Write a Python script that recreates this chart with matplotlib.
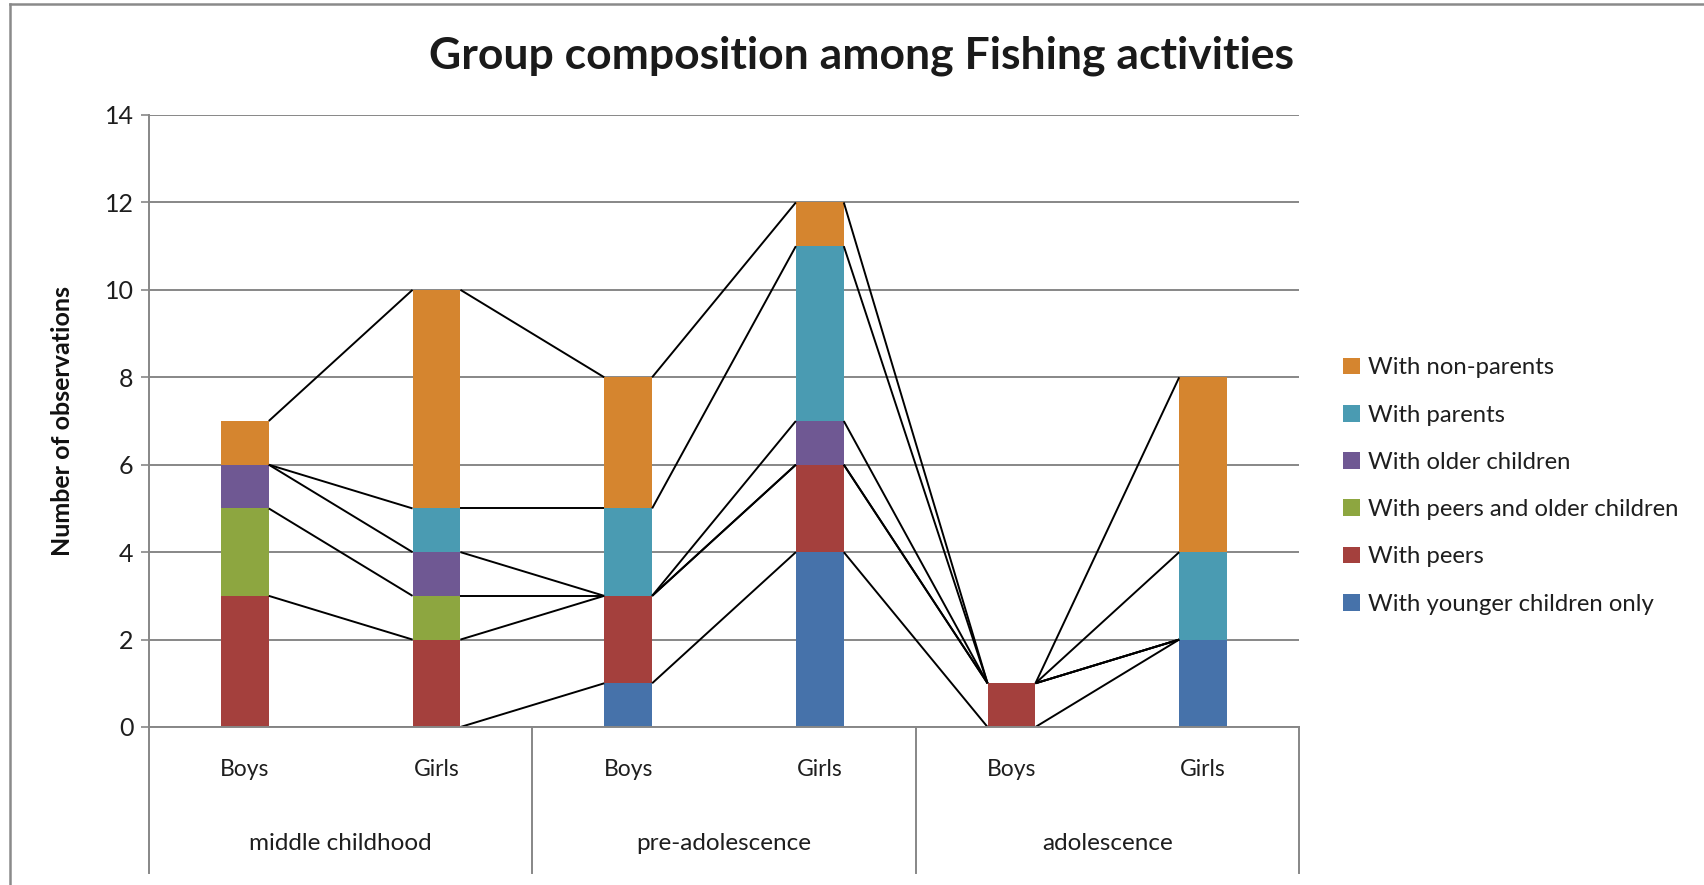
import matplotlib
matplotlib.use("Agg")
import matplotlib.pyplot as plt
from matplotlib.lines import Line2D
from matplotlib.patches import Patch
import numpy as np

plt.rcParams['font.family'] = ['Lato', 'DejaVu Sans']

# ---- data -------------------------------------------------------------
groups = ["middle childhood", "pre-adolescence", "adolescence"]
sexes = ["Boys", "Girls"]
series_names = [
    "With younger children only",
    "With peers",
    "With peers and older children",
    "With older children",
    "With parents",
    "With non-parents",
]
# order of bars: MC Boys, MC Girls, PA Boys, PA Girls, A Boys, A Girls
younger_only = [0, 0, 1, 4, 0, 2]
peers = [3, 2, 2, 2, 1, 0]
peers_and_older = [2, 1, 0, 0, 0, 0]
older_children = [1, 1, 0, 1, 0, 0]
parents = [0, 1, 2, 4, 0, 2]
non_parents = [1, 5, 3, 1, 0, 4]

series_values = [younger_only, peers, peers_and_older, older_children,
                 parents, non_parents]
colors = ["#4672AA", "#A4403D", "#8DA640", "#6F5893", "#4A9BB2", "#D5852F"]

title = "Group composition among Fishing activities"
y_label = "Number of observations"
y_ticks = [0, 2, 4, 6, 8, 10, 12, 14]

# ---- figure -----------------------------------------------------------
W, H = 1704, 885
fig = plt.figure(figsize=(W / 100, H / 100), dpi=100)
ax_left, ax_right, ax_top, ax_bot = 149, 1299, 115, 727
ax = fig.add_axes([ax_left / W, 1 - ax_bot / H,
                   (ax_right - ax_left) / W, (ax_bot - ax_top) / H])

grid_c = "#878787"
n_bars = len(younger_only)
x = np.arange(n_bars)
bar_w = 0.25

bottom = np.zeros(n_bars)
tops = []
for vals, col, name in zip(series_values, colors, series_names):
    v = np.array(vals, dtype=float)
    ax.bar(x, v, width=bar_w, bottom=bottom, color=col, linewidth=0,
           zorder=3, label=name)
    bottom = bottom + v
    tops.append(bottom.copy())

# series lines joining the top of each segment between neighbouring bars
for t in tops:
    for i in range(n_bars - 1):
        ax.plot([x[i] + bar_w / 2, x[i + 1] - bar_w / 2], [t[i], t[i + 1]],
                color="black", lw=1.4, zorder=4, solid_capstyle="butt")

ax.set_xlim(-0.5, n_bars - 0.5)
ax.set_ylim(0, 14)
ax.set_yticks(y_ticks)
ax.set_yticklabels([str(t) for t in y_ticks], fontsize=18, color="#1e1e1e")
ax.yaxis.grid(True, color=grid_c, lw=1.4, zorder=1)
ax.set_axisbelow(True)
ax.tick_params(axis="y", length=6, width=1.2, color=grid_c, pad=5)
ax.set_xticks([])
for s in ["top", "right"]:
    ax.spines[s].set_visible(False)
for s in ["left", "bottom"]:
    ax.spines[s].set_color(grid_c)
    ax.spines[s].set_linewidth(1.4)
    ax.spines[s].set_zorder(5)

ax.set_ylabel(y_label, fontsize=18, fontweight="bold", color="#111111",
              labelpad=22)

# multi-level category axis
cat_depth = -(873 - 727) / (727 - 115)
sub_y = -(769 - 727) / (727 - 115)
grp_y = -(843 - 727) / (727 - 115)
trans = ax.get_xaxis_transform()
for i in range(n_bars):
    ax.text(x[i], sub_y, sexes[i % 2], transform=trans, ha="center",
            va="center", fontsize=16.5, color="#1e1e1e")
for g, name in enumerate(groups):
    ax.text(2 * g + 0.5, grp_y, name, transform=trans, ha="center",
            va="center", fontsize=17.5, color="#1e1e1e")
for xs in [-0.5, 1.5, 3.5, 5.5]:
    ax.add_line(Line2D([xs, xs], [0, cat_depth], transform=trans,
                       color=grid_c, lw=1.4, clip_on=False))

fig.text(861 / W, 1 - 56 / H, title, ha="center", va="center",
         fontsize=32, fontweight="bold", color="#1a1a1a")

# legend (top entry is the last series)
handles = [Patch(facecolor=c, edgecolor="none") for c in colors][::-1]
labels = series_names[::-1]
fig.legend(handles, labels, loc="center left",
           bbox_to_anchor=(1331 / W, 1 - 486 / H), frameon=False,
           fontsize=17.2, handlelength=0.7, handleheight=0.7,
           handletextpad=0.35, labelspacing=1.1, borderpad=0,
           labelcolor="#1e1e1e")

# outer chart frame (left and top edges)
fig.add_artist(Line2D([10 / W, 10 / W], [0, 1 - 4 / H], transform=fig.transFigure,
                      color="#8a8a8a", lw=1.8))
fig.add_artist(Line2D([10 / W, 1], [1 - 4 / H, 1 - 4 / H], transform=fig.transFigure,
                      color="#8a8a8a", lw=1.8))

fig.savefig("out.png", dpi=100)
